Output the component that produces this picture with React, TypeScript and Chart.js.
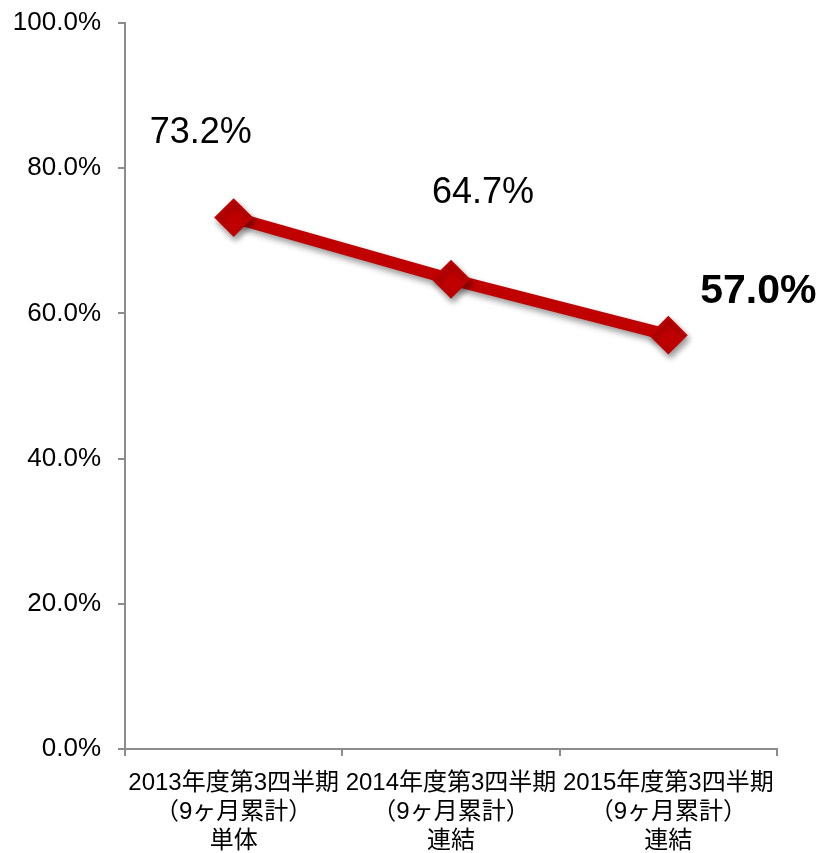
import React, { useEffect, useRef } from "react";
import { Chart, registerables } from "chart.js";

Chart.register(...registerables);

const categories: string[][] = [
  ["2013年度第3四半期", "（9ヶ月累計）", "単体"],
  ["2014年度第3四半期", "（9ヶ月累計）", "連結"],
  ["2015年度第3四半期", "（9ヶ月累計）", "連結"],
];
const ratioValues: number[] = [73.2, 64.7, 57.0];
const valueLabels: string[] = ["73.2%", "64.7%", "57.0%"];
const yTickMin = 0;
const yTickMax = 100;
const yTickStep = 20;

const LINE_COLOR = "#C00000";
const AXIS_COLOR = "#8C8C8C";
const FONT_LATIN = "'Liberation Sans', Arial, sans-serif";
const FONT_MIXED = "'Liberation Sans', 'Noto Sans CJK JP', sans-serif";

const shadowPlugin = {
  id: "lineShadow",
  beforeDatasetDraw(chart: any) {
    const ctx = chart.ctx;
    ctx.save();
    ctx.shadowColor = "rgba(0,0,0,0.4)";
    ctx.shadowBlur = 6;
    ctx.shadowOffsetX = 2;
    ctx.shadowOffsetY = 4;
  },
  afterDatasetDraw(chart: any) {
    chart.ctx.restore();
  },
};

const labelOffsets = [
  { dx: -33, dy: -84, bold: false, size: 36 },
  { dx: 32, dy: -86, bold: false, size: 36 },
  { dx: 90, dy: -43, bold: true, size: 41 },
];

const dataLabelPlugin = {
  id: "dataLabels",
  afterDatasetsDraw(chart: any) {
    const ctx = chart.ctx;
    const meta = chart.getDatasetMeta(0);
    ctx.save();
    ctx.textAlign = "center";
    ctx.textBaseline = "middle";
    ctx.fillStyle = "#000";
    meta.data.forEach((pt: any, i: number) => {
      const o = labelOffsets[i];
      ctx.font = `${o.bold ? "bold " : ""}${o.size}px ${FONT_LATIN}`;
      ctx.fillText(valueLabels[i], pt.x + o.dx, pt.y + o.dy);
    });
    ctx.restore();
  },
};

export default function App() {
  const ref = useRef<HTMLCanvasElement | null>(null);

  useEffect(() => {
    if (!ref.current) return;
    const chart = new Chart(ref.current, {
      type: "line",
      data: {
        labels: categories,
        datasets: [
          {
            data: ratioValues,
            borderColor: LINE_COLOR,
            backgroundColor: LINE_COLOR,
            borderWidth: 12,
            pointStyle: "rectRot",
            pointRadius: 18,
            pointBorderWidth: 2,
            pointBorderColor: LINE_COLOR,
            pointBackgroundColor: LINE_COLOR,
            tension: 0,
          },
        ],
      },
      options: {
        responsive: false,
        animation: false,
        layout: { padding: { top: 23, right: 46, bottom: 0, left: 0 } },
        plugins: {
          legend: { display: false },
          tooltip: { enabled: false },
        },
        scales: {
          x: {
            type: "category",
            offset: true,
            grid: {
              offset: true,
              drawOnChartArea: false,
              drawTicks: true,
              tickLength: 7,
              color: AXIS_COLOR,
              lineWidth: 2,
            },
            border: { display: true, color: AXIS_COLOR, width: 2 },
            ticks: {
              color: "#000",
              font: { family: FONT_MIXED, size: 24, lineHeight: 1.21 },
              padding: 13,
              maxRotation: 0,
              minRotation: 0,
              autoSkip: false,
            },
            afterFit(scale: any) {
              scale.height = 104;
              scale.paddingLeft = 0;
              scale.paddingRight = 0;
            },
          },
          y: {
            min: yTickMin,
            max: yTickMax,
            grid: {
              drawOnChartArea: false,
              drawTicks: true,
              tickLength: 7,
              color: AXIS_COLOR,
              lineWidth: 2,
            },
            border: { display: true, color: AXIS_COLOR, width: 2 },
            ticks: {
              stepSize: yTickStep,
              color: "#000",
              padding: 17,
              font: { family: FONT_LATIN, size: 26 },
              callback: (v: any) => Number(v).toFixed(1) + "%",
            },
            afterFit(scale: any) {
              scale.width = 125;
              scale.paddingTop = 0;
              scale.paddingBottom = 0;
            },
          },
        },
      },
      plugins: [shadowPlugin, dataLabelPlugin],
    });
    return () => chart.destroy();
  }, []);

  return (
    <div style={{ position: "absolute", left: 0, top: 0, width: 823, height: 853, background: "#fff" }}>
      <canvas ref={ref} width={823} height={853} style={{ width: 823, height: 853 }} />
    </div>
  );
}
